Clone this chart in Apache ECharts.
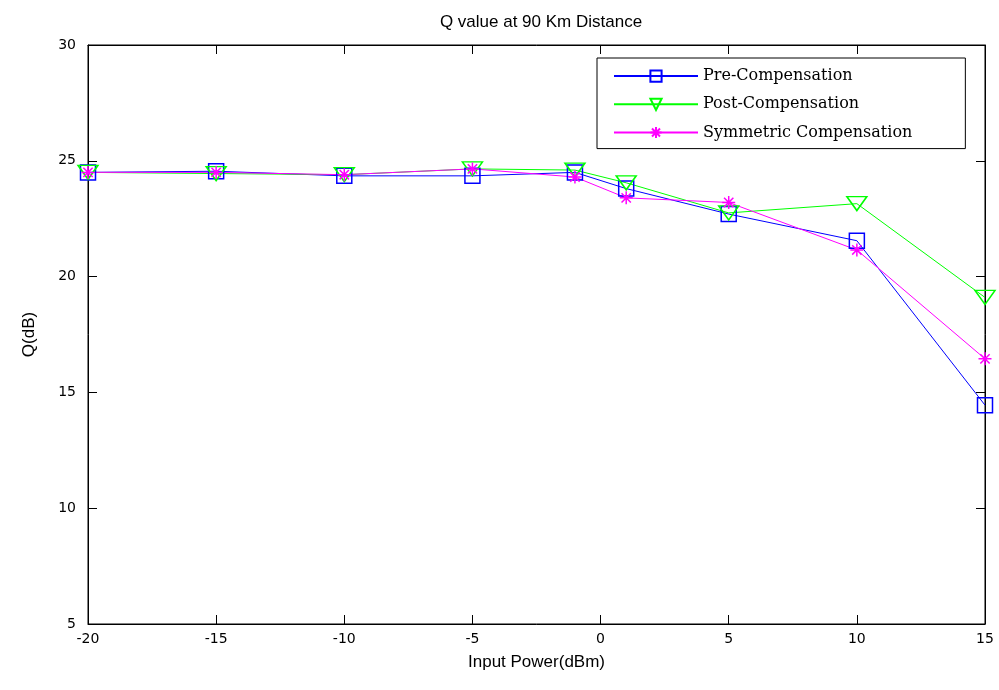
<!DOCTYPE html>
<html><head><meta charset="utf-8">
<script src="https://cdn.jsdelivr.net/npm/echarts@6/dist/echarts.min.js"></script>
<style>html,body{margin:0;padding:0;background:#fff}#c{width:999px;height:690px}</style>
</head><body><div id="c"></div>
<script>
const xValues = [-20, -15, -10, -5, -1, 1, 5, 10, 15];
const preComp = [24.5, 24.55, 24.35, 24.35, 24.5, 23.8, 22.7, 21.55, 14.45];
const postComp = [24.5, 24.45, 24.4, 24.65, 24.6, 24.05, 22.75, 23.15, 19.1];
const symComp = [24.5, 24.5, 24.4, 24.65, 24.3, 23.4, 23.2, 21.15, 16.45];
const seriesNames = ['Pre-Compensation', 'Post-Compensation', 'Symmetric Compensation'];
const titleText = 'Q value at 90 Km Distance';
const xName = 'Input Power(dBm)';
const yName = 'Q(dB)';

const pair = arr => xValues.map((x, i) => [x, arr[i]]);
const tickFont = {fontFamily: 'DejaVu Sans', fontSize: 14, color: '#000'};
const star = 'path://M0,-6 L0,6 M-6,0 L6,0 M-4.3,-4.3 L4.3,4.3 M-4.3,4.3 L4.3,-4.3';
const tri = 'path://M-10,-7 L10,-7 L0,7 Z';
const axLine = {onZero: false, lineStyle: {color: '#000'}};
const axTick = {inside: true, length: 9, lineStyle: {color: '#000'}};

const chart = echarts.init(document.getElementById('c'));
chart.setOption({
  animation: false,
  backgroundColor: '#fff',
  title: {text: titleText, left: 536, textAlign: 'center', top: 9,
    textStyle: {fontFamily: 'Liberation Sans', fontSize: 17, fontWeight: 'normal', color: '#000'}},
  legend: {
    orient: 'vertical', left: 597, top: 58,
    padding: [10, 53, 8, 16], itemGap: 12, itemWidth: 84, itemHeight: 14,
    borderColor: '#000', borderWidth: 1, backgroundColor: '#fff',
    textStyle: {fontFamily: 'DejaVu Serif', fontSize: 16, lineHeight: 16, color: '#000'},
    data: seriesNames
  },
  grid: {left: 88, right: 14, top: 45, bottom: 66, show: true, borderColor: '#000', borderWidth: 1},
  xAxis: [{
    type: 'value', min: -20, max: 15, interval: 5, position: 'bottom',
    name: xName, nameLocation: 'middle', nameGap: 30,
    nameTextStyle: {fontFamily: 'Liberation Sans', fontSize: 17, color: '#000'},
    axisLine: axLine, axisTick: axTick,
    axisLabel: Object.assign({margin: 8}, tickFont),
    splitLine: {show: false}
  }, {
    type: 'value', min: -20, max: 15, interval: 5, position: 'top',
    axisLine: axLine, axisTick: axTick,
    axisLabel: {show: false}, splitLine: {show: false}
  }],
  yAxis: [{
    type: 'value', min: 5, max: 30, interval: 5, position: 'left',
    name: yName, nameLocation: 'middle', nameGap: 50, nameRotate: 90,
    nameTextStyle: {fontFamily: 'Liberation Sans', fontSize: 17, color: '#000'},
    axisLine: axLine, axisTick: axTick,
    axisLabel: Object.assign({margin: 12}, tickFont),
    splitLine: {show: false}
  }, {
    type: 'value', min: 5, max: 30, interval: 5, position: 'right',
    axisLine: axLine, axisTick: axTick,
    axisLabel: {show: false}, splitLine: {show: false}
  }],
  series: [{
    name: seriesNames[0], type: 'line', data: pair(preComp),
    symbol: 'rect', symbolSize: 15,
    lineStyle: {color: '#0000ff', width: 1},
    itemStyle: {color: 'none', borderColor: '#0000ff', borderWidth: 1.5}
  }, {
    name: seriesNames[1], type: 'line', data: pair(postComp),
    symbol: tri, symbolSize: [20, 14],
    lineStyle: {color: '#00ff00', width: 1},
    itemStyle: {color: 'none', borderColor: '#00ff00', borderWidth: 1.5}
  }, {
    name: seriesNames[2], type: 'line', data: pair(symComp),
    symbol: star, symbolSize: 13,
    lineStyle: {color: '#ff00ff', width: 1},
    itemStyle: {color: 'none', borderColor: '#ff00ff', borderWidth: 1.5}
  }]
});
</script></body></html>
